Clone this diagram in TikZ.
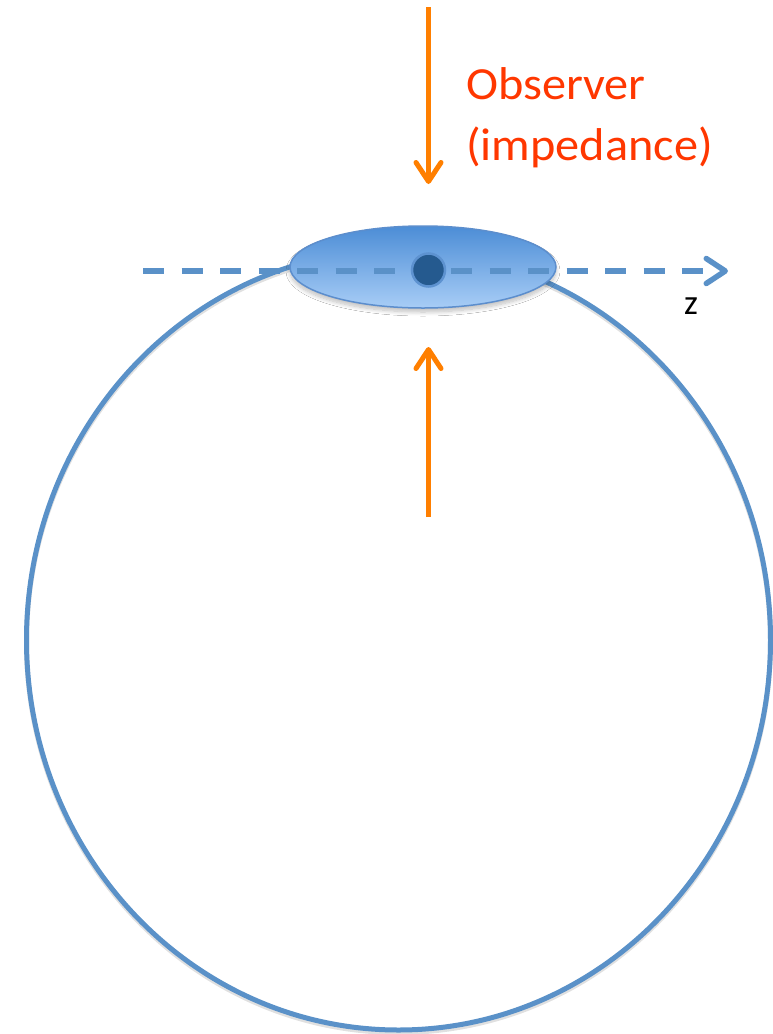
\documentclass[tikz,border=0pt]{standalone}
\usepackage{fontspec}
\setmainfont{Carlito}
\usetikzlibrary{arrows.meta,shapes.geometric,shadows.blur}
\definecolor{ringblue}{RGB}{90,145,200}
\definecolor{disktop}{RGB}{76,141,214}
\definecolor{diskbot}{RGB}{168,205,246}
\definecolor{diskedge}{RGB}{92,142,205}
\definecolor{dotfill}{RGB}{37,90,143}
\definecolor{dotedge}{RGB}{93,146,208}
\definecolor{arroworange}{RGB}{255,127,0}
\definecolor{labelred}{RGB}{255,55,0}
\tikzset{
  ring/.style={ellipse, draw=ringblue, line width=5pt, minimum width=744pt, minimum height=780pt, inner sep=0pt},
  ringshadow/.style={ellipse, draw=black, draw opacity=0.12, line width=5pt, minimum width=744pt, minimum height=780pt, inner sep=0pt},
  disk/.style={ellipse, draw=diskedge, line width=1.5pt, top color=disktop, bottom color=diskbot, minimum width=266pt, minimum height=82pt, inner sep=0pt,
     blur shadow={shadow xshift=0pt, shadow yshift=-4pt, shadow opacity=25, shadow blur steps=10, shadow blur radius=4pt}},
  spot/.style={circle, fill=dotfill, draw=dotedge, line width=2.5pt, minimum size=33pt, inner sep=0pt},
  zaxis/.style={ringblue, line width=5.5pt, dash pattern=on 21pt off 17.5pt, -{Straight Barb[length=19pt,width=25pt,round]}},
  obsarrow/.style={arroworange, line width=5pt, -{Straight Barb[length=19pt,width=25pt,round]}},
  obstext/.style={text=labelred, font=\fontsize{46pt}{60pt}\selectfont, anchor=base west, inner sep=0pt},
  axislabel/.style={text=black, font=\fontsize{35pt}{40pt}\selectfont, anchor=base west, inner sep=0pt}
}
\begin{document}
\begin{tikzpicture}[x=1pt,y=1pt]
\useasboundingbox (0,0) rectangle (772,-1034);
\fill[white] (0,0) rectangle (772,-1034);
% big ring
\node[ringshadow] (ringsh) at (398.5,-642.5) {};
\node[ring] (ring) at (398.5,-640) {};
% disk
\node[disk] (disk) at (423,-267) {};
% z axis
\coordinate (zs) at (143,-271);
\coordinate (ze) at (728,-271);
\draw[zaxis] (zs) -- (ze);
\node[axislabel] (zlab) at (684,-314) {z};
% dot
\node[spot] (spot) at (428.5,-270) {};
% observer arrows
\coordinate (a1s) at (428.5,-7);
\coordinate (a1e) at (428.5,-184);
\draw[obsarrow] (a1s) -- (a1e);
\coordinate (a2s) at (428.5,-517);
\coordinate (a2e) at (428.5,-347);
\draw[obsarrow] (a2s) -- (a2e);
% label
\node[obstext] (obs1) at (466,-99) {\scalebox{1.05}[1]{Observer}};
\node[obstext] (obs2) at (466,-160) {\scalebox{1.05}[1]{(impedance)}};
\end{tikzpicture}
\end{document}
